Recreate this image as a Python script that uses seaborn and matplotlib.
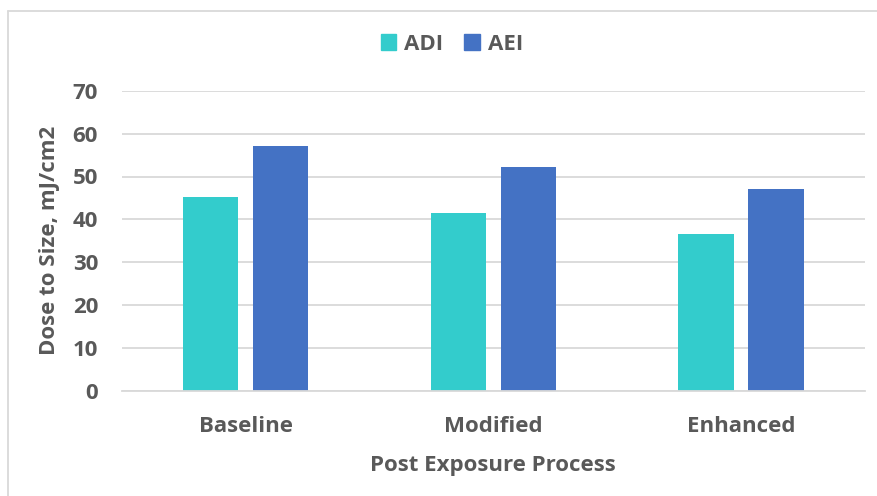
import matplotlib
matplotlib.use("Agg")
import matplotlib.pyplot as plt
import matplotlib.patches as mpatches
import seaborn as sns
import pandas as pd

categories = ["Baseline", "Modified", "Enhanced"]
series_names = ["ADI", "AEI"]
adi_values = [45.2, 41.6, 36.6]
aei_values = [57.1, 52.2, 47.0]
y_ticks = [0, 10, 20, 30, 40, 50, 60, 70]
colors = ["#33CCCC", "#4472C4"]

df = pd.DataFrame({
    "Process": categories * 2,
    "Series": [series_names[0]] * 3 + [series_names[1]] * 3,
    "Dose": adi_values + aei_values,
})

sns.set_theme(style="white")
plt.rcParams["font.family"] = ["Open Sans", "DejaVu Sans"]
TXT = "#595959"
FS = 16

fig = plt.figure(figsize=(8.78, 4.96), dpi=100)
ax = fig.add_axes([121.7 / 878, 1 - 391 / 496, (865 - 121.7) / 878, (391 - 90.7) / 496])

sns.barplot(data=df, x="Process", y="Dose", hue="Series", order=categories,
            hue_order=series_names, palette=colors, saturation=1,
            width=0.565, gap=0.207, linewidth=0, ax=ax, legend=False)

ax.set_ylim(0, 70)
ax.set_xlim(-0.5, 2.5)
ax.set_yticks(y_ticks)
ax.yaxis.grid(True, color="#D9D9D9", linewidth=1.3)
ax.set_axisbelow(True)
for s in ["top", "right", "left"]:
    ax.spines[s].set_visible(False)
ax.spines["bottom"].set_color("#D9D9D9")
ax.spines["bottom"].set_linewidth(1.3)
ax.tick_params(axis="both", length=0, colors=TXT, labelsize=FS)
ax.tick_params(axis="y", pad=17)
ax.tick_params(axis="x", pad=18)
for lab in ax.get_xticklabels() + ax.get_yticklabels():
    lab.set_fontweight("bold")
ax.set_xlabel("Post Exposure Process", fontsize=FS, fontweight="bold", color=TXT, labelpad=13)
ax.set_ylabel("Dose to Size, mJ/cm2", fontsize=FS, fontweight="bold", color=TXT, labelpad=9)

handles = [mpatches.Patch(color=c, label=n) for c, n in zip(colors, series_names)]
fig.legend(handles=handles, loc="center", bbox_to_anchor=(452 / 878, 1 - 44 / 496), ncol=2,
           frameon=False, handlelength=0.7, handleheight=0.7, handletextpad=0.35,
           columnspacing=0.95, prop={"weight": "bold", "size": FS}, labelcolor=TXT)

# chart-area border
fig.add_artist(plt.Line2D([8 / 878, 8 / 878], [0, 1 - 11 / 496], transform=fig.transFigure,
                          color="#D9D9D9", linewidth=1.3))
fig.add_artist(plt.Line2D([8 / 878, 1], [1 - 11 / 496, 1 - 11 / 496], transform=fig.transFigure,
                          color="#D9D9D9", linewidth=1.3))

fig.savefig("out.png", dpi=100)
